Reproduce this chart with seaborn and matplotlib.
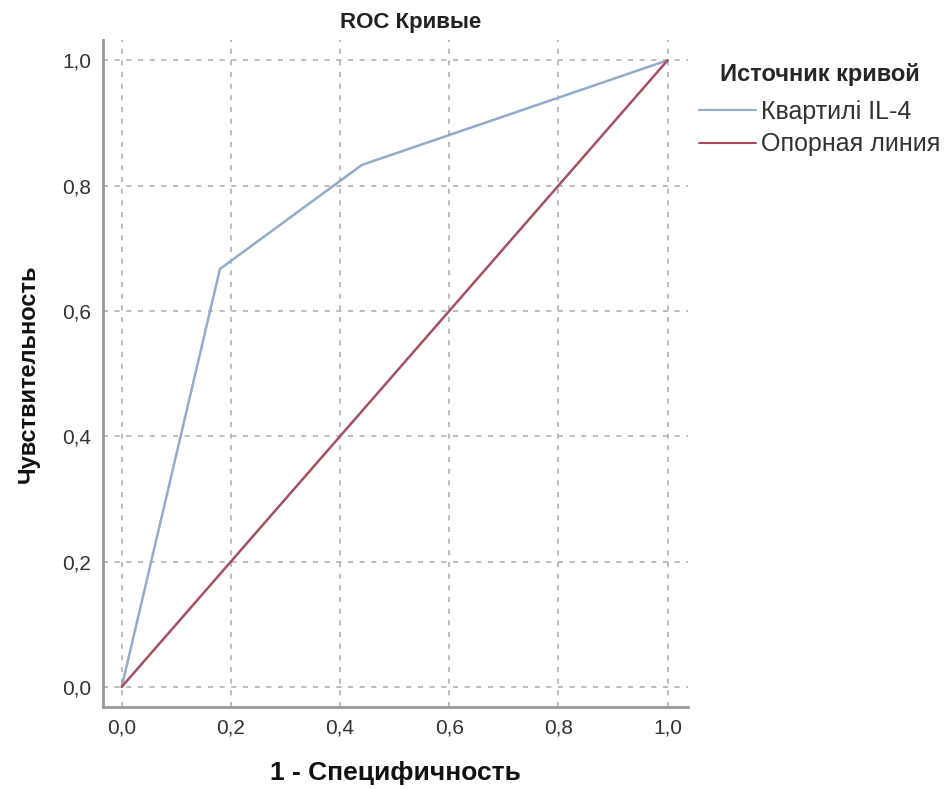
import pandas as pd
import matplotlib
matplotlib.use('Agg')
import matplotlib.pyplot as plt
import seaborn as sns
from matplotlib.ticker import FuncFormatter

# ROC data
curve_fpr = [0.0, 0.18, 0.44, 1.0]
curve_tpr = [0.0, 0.667, 0.833, 1.0]
ref_fpr = [0.0, 1.0]
ref_tpr = [0.0, 1.0]
series_names = ['Квартилі IL-4', 'Опорная линия']
ticks = [0.0, 0.2, 0.4, 0.6, 0.8, 1.0]

sns.set_theme(style='white')
plt.rcParams['font.family'] = ['Liberation Sans', 'DejaVu Sans']

df = pd.concat([
    pd.DataFrame({'x': curve_fpr, 'y': curve_tpr, 'Источник кривой': series_names[0]}),
    pd.DataFrame({'x': ref_fpr, 'y': ref_tpr, 'Источник кривой': series_names[1]}),
])

fig = plt.figure(figsize=(9.5, 7.89), dpi=100)
ax = fig.add_axes([0.108, 0.104, 0.616, 0.845])

sns.lineplot(data=df, x='x', y='y', hue='Источник кривой', sort=False,
             palette=['#94abc9', '#a4505f'], linewidth=1.8, ax=ax, estimator=None)

ax.set_xlim(-0.035, 1.037)
ax.set_ylim(-0.032, 1.032)
ax.set_xticks(ticks)
ax.set_yticks(ticks)
fmt = FuncFormatter(lambda v, p: f'{v:.1f}'.replace('.', ','))
ax.xaxis.set_major_formatter(fmt)
ax.yaxis.set_major_formatter(fmt)
ax.tick_params(labelsize=15, colors='#333333', length=0, pad=8)

ax.grid(True, linestyle=(0, (3, 4)), color='#b0b0b0', linewidth=1.2)
for s in ['top', 'right']:
    ax.spines[s].set_visible(False)
for s in ['left', 'bottom']:
    ax.spines[s].set_color('#999999')
    ax.spines[s].set_linewidth(2)

ax.set_title('ROC Кривые', fontsize=16, fontweight='bold', pad=9, color='#222222', x=0.527)
ax.set_xlabel('1 - Специфичность', fontsize=19, fontweight='bold', labelpad=17, color='#111111')
ax.set_ylabel('Чувствительность', fontsize=17, fontweight='bold', labelpad=16, color='#111111')

leg = ax.legend(title='Источник кривой', loc='upper left', bbox_to_anchor=(0.98, 1.0),
                frameon=False, fontsize=18, handlelength=2.3, handletextpad=0.2,
                labelspacing=0.35, alignment='center')
leg.get_title().set_fontweight('bold')
leg.get_title().set_fontsize(17)
leg._legend_box.sep = 10
for line in leg.get_lines():
    line.set_linewidth(1.5)
for t in leg.get_texts():
    t.set_color('#333333')

plt.savefig('out.png', dpi=100)
